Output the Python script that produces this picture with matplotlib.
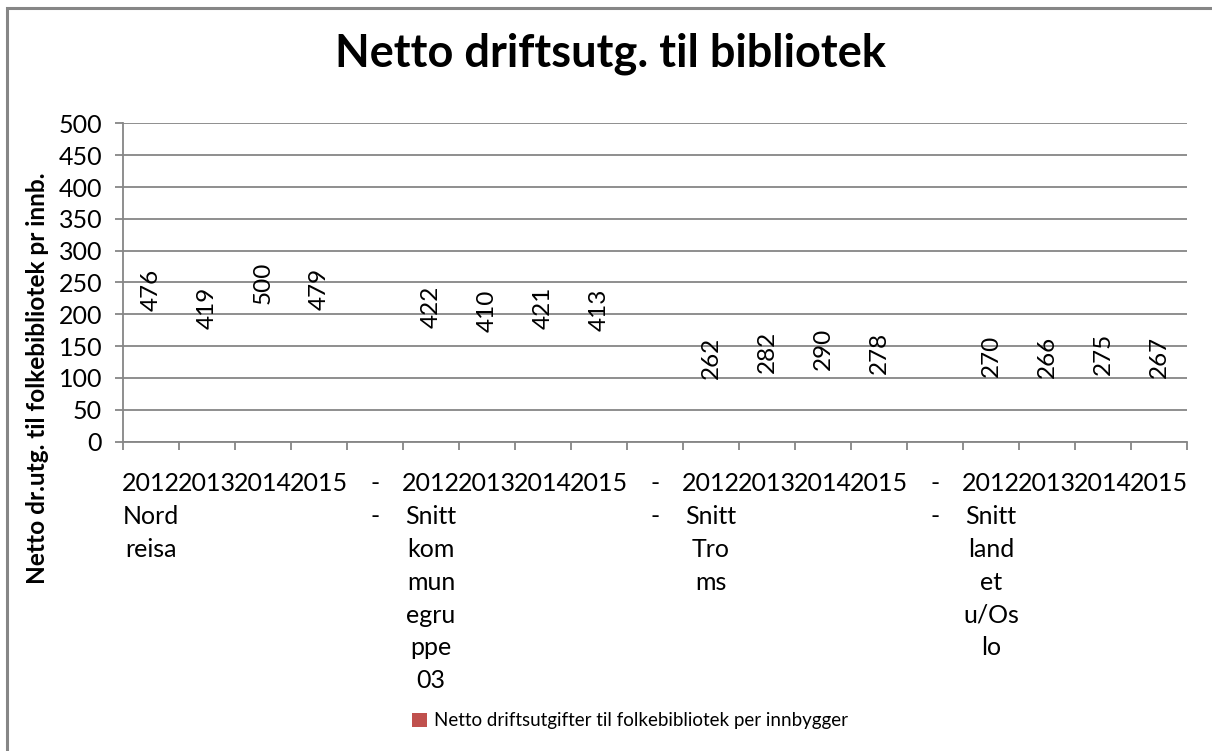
import matplotlib.pyplot as plt
from matplotlib.patches import Patch, Rectangle

plt.rcParams['font.family'] = ['Lato', 'DejaVu Sans']

# categories on the x axis (separator slots between the groups)
categories = [
    '2012\nNord\nreisa', '2013', '2014', '2015', '-\n-',
    '2012\nSnitt\nkom\nmun\negru\nppe\n03', '2013', '2014', '2015', '-\n-',
    '2012\nSnitt\nTro\nms', '2013', '2014', '2015', '-\n-',
    '2012\nSnitt\nland\net\nu/Os\nlo', '2013', '2014', '2015',
]
values = [476, 419, 500, 479, 0,
          422, 410, 421, 413, 0,
          262, 282, 290, 278, 0,
          270, 266, 275, 267]
value_labels = [str(v) if v else '' for v in values]
y_ticks = list(range(0, 501, 50))

series_name = 'Netto driftsutgifter til folkebibliotek per innbygger'
title = 'Netto driftsutg. til bibliotek'
y_title = 'Netto dr.utg. til folkebibliotek pr innb.'

grey = '#868686'

fig = plt.figure(figsize=(12.12, 7.51), dpi=100)
ax = fig.add_axes([0.1015, 0.4121, 0.8779, 0.4235])

x = list(range(len(categories)))
# bars are not visible in the original, only the centred labels
bars = ax.bar(x, values, width=0.6, color='none', edgecolor='none')
ax.bar_label(bars, labels=value_labels, label_type='center', rotation=90,
             fontsize=17.5, color='black')

ax.set_xlim(-0.5, len(categories) - 0.5)
ax.set_ylim(0, 500)
ax.set_yticks(y_ticks)
ax.set_xticks([i - 0.5 for i in range(len(categories) + 1)], minor=False)
ax.set_xticklabels([])
ax.set_xticks(x, minor=True)
ax.set_xticklabels(categories, minor=True, linespacing=1.52, va='top')
ax.tick_params(axis='x', which='minor', length=0, pad=22, labelsize=18)
ax.tick_params(axis='x', which='major', length=6, width=1.3, color=grey,
               direction='out')
ax.tick_params(axis='y', length=6, width=1.3, color=grey, pad=9, labelsize=18)

ax.yaxis.grid(True, color=grey, linewidth=1.3)
ax.set_axisbelow(True)
for side in ['top', 'right']:
    ax.spines[side].set_visible(False)
for side in ['left', 'bottom']:
    ax.spines[side].set_color(grey)
    ax.spines[side].set_linewidth(1.3)

fig.text(0.5035, 0.929, title, ha='center', va='center', fontsize=32.5,
         fontweight='bold')

# y title: runs from about y=172 px to y=585 px in the original
ylab = fig.text(38 / 1212, 1 - 378 / 751, y_title, ha='center', va='center',
                rotation=90, fontsize=16, fontweight='bold')
fig.canvas.draw()
h = ylab.get_window_extent().height
ylab.set_fontsize(16 * 413 / h)

fig.legend(handles=[Patch(facecolor='#C0504D', edgecolor='none', label=series_name)],
           loc='center', bbox_to_anchor=(0.52, 0.04), frameon=False,
           fontsize=13.5, handlelength=0.8, handleheight=0.8, handletextpad=0.35)

# chart area border (only left and top visible in the crop)
fig.patches.append(Rectangle((7 / 1212, -0.1), 1.2, 1.1 - 8 / 751,
                             transform=fig.transFigure, fill=False,
                             edgecolor=grey, linewidth=2.2))

fig.savefig('out.png', dpi=100)
